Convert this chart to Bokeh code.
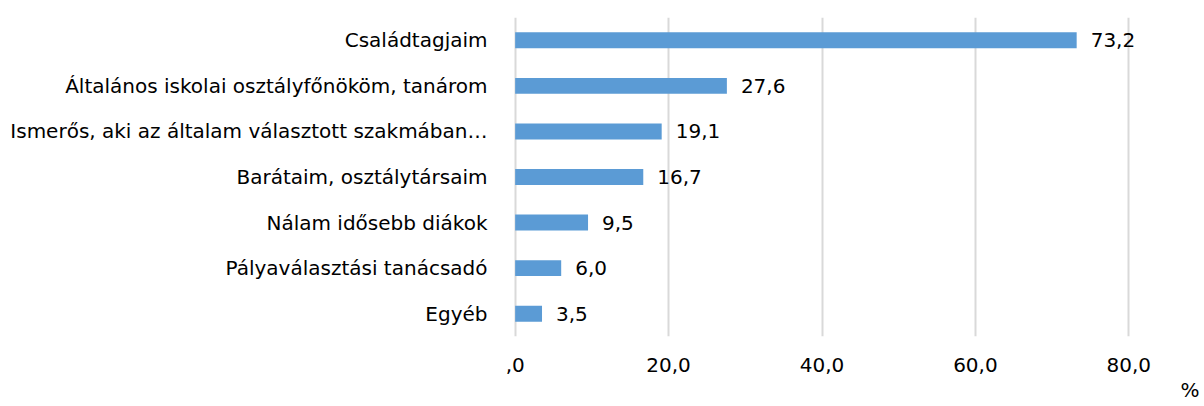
from bokeh.plotting import figure
from bokeh.models import ColumnDataSource, FixedTicker, Title
from bokeh.core.properties import value
from bokeh.embed import file_html
from bokeh.resources import INLINE

categories = [
    "Családtagjaim",
    "Általános iskolai osztályfőnököm, tanárom",
    "Ismerős, aki az általam választott szakmában…",
    "Barátaim, osztálytársaim",
    "Nálam idősebb diákok",
    "Pályaválasztási tanácsadó",
    "Egyéb",
]
values = [73.2, 27.6, 19.1, 16.7, 9.5, 6.0, 3.5]
labels = ["73,2", "27,6", "19,1", "16,7", "9,5", "6,0", "3,5"]
x_ticks = [0, 20, 40, 60, 80]
x_tick_labels = [",0", "20,0", "40,0", "60,0", "80,0"]

FONT = "DejaVu Sans"
FS = "20px"

src = ColumnDataSource(dict(cat=categories, val=values, lab=labels))

p = figure(
    width=1204, height=406,
    y_range=list(reversed(categories)),
    x_range=(-1, 81),
    output_backend="svg", toolbar_location=None,
    min_border_left=507, min_border_right=68,
    min_border_top=17, min_border_bottom=70,
)
p.outline_line_color = None
p.background_fill_color = "white"

p.hbar(y="cat", right="val", left=0, height=0.35, source=src,
       fill_color="#5B9BD5", line_color=None)

p.text(x="val", y="cat", text="lab", source=src, x_offset=14,
       text_font=value(FONT), text_font_size=FS, text_color="#000000",
       text_baseline="middle", text_align="left")

p.xaxis.ticker = FixedTicker(ticks=x_ticks)
p.xaxis.major_label_overrides = {t: l for t, l in zip(x_ticks, x_tick_labels)}
p.xaxis.axis_line_color = None
p.xaxis.major_tick_line_color = None
p.xaxis.minor_tick_line_color = None
p.xaxis.major_label_standoff = 15
p.xaxis.major_label_text_font = FONT
p.xaxis.major_label_text_font_size = FS
p.xaxis.major_label_text_color = "#000000"

p.yaxis.axis_line_color = None
p.yaxis.major_tick_line_color = None
p.yaxis.minor_tick_line_color = None
p.yaxis.major_label_standoff = 14
p.yaxis.major_label_text_font = FONT
p.yaxis.major_label_text_font_size = FS
p.yaxis.major_label_text_color = "#000000"

p.xgrid.grid_line_color = "#D9D9D9"
p.xgrid.grid_line_width = 2
p.ygrid.grid_line_color = None

unit_title = Title(text="%", align="left", offset=673, standoff=2,
                   text_font=FONT, text_font_size=FS, text_font_style="normal",
                   text_color="#000000")
p.add_layout(unit_title, "below")

open("out.html", "w").write(file_html(p, INLINE))
